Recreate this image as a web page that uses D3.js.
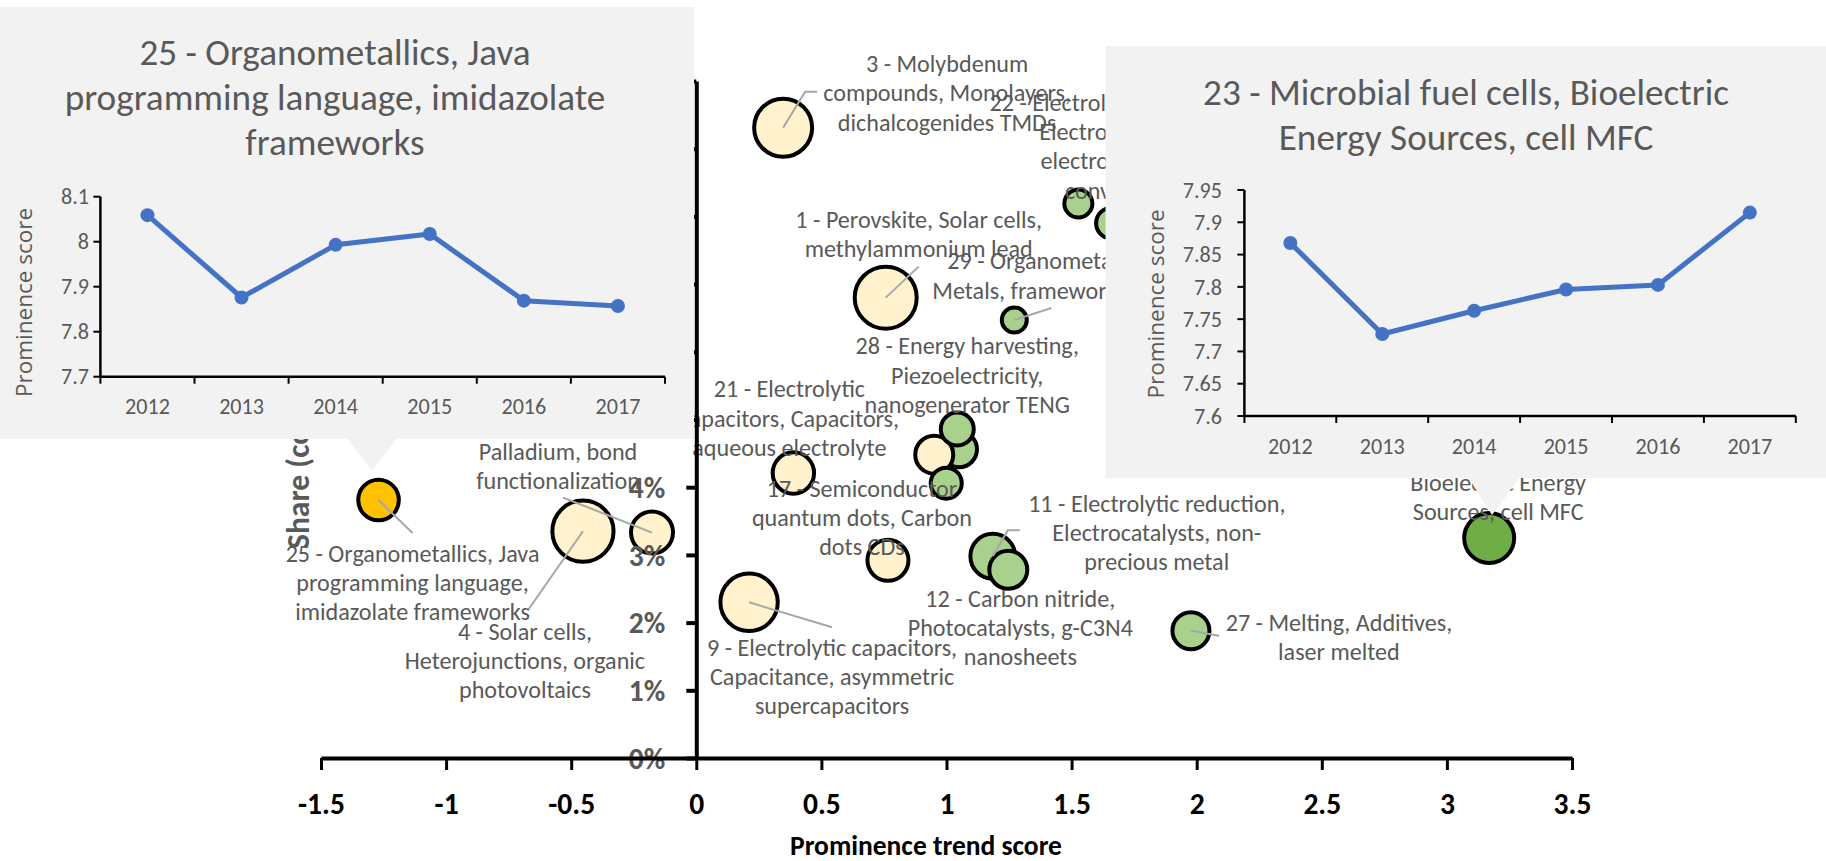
<!DOCTYPE html>
<html>
<head>
<meta charset="utf-8">
<script src="https://cdn.jsdelivr.net/npm/d3@7"></script>
<style>
  html, body { margin: 0; padding: 0; background: #fff; }
  svg { display: block; }
</style>
</head>
<body>
<svg id="chart" width="1826" height="861"></svg>
<script>
// ---------- Topic bubbles: prominence trend score (x), share (y), bubble size ----------
const topicIds   = [3, 1, 4, 24, 25, 9, 21, 17, 14, 19, 28, 26, 11, 12, 27, 29, 30, 22, 23];
const trendScore = [0.347, 0.757, -0.453, -0.177, -1.27, 0.211, 0.388, 0.766, 1.05, 0.951, 1.043, 0.999, 1.185, 1.247, 1.977, 1.271, 1.527, 1.66, 3.169];
const shareValue = [0.0931, 0.0680, 0.0335, 0.0333, 0.0381, 0.0230, 0.0421, 0.0292, 0.0456, 0.0448, 0.0486, 0.0406, 0.0298, 0.0278, 0.0188, 0.0647, 0.0819, 0.0790, 0.0325];
const bubbleSize = [1750, 2000, 1949, 918, 858, 1714, 892, 875, 674, 751, 567, 500, 1044, 751, 712, 325, 408, 500, 1301];
const trendGroup = ["declining", "declining", "declining", "declining", "selectedDeclining", "declining", "declining", "declining",
                    "rising", "declining", "rising", "rising", "rising", "rising", "rising", "rising", "rising", "rising", "selectedRising"];
const topicLabels = [
  ["3 - Molybdenum", "compounds, Monolayers,", "dichalcogenides TMDs"],
  ["1 - Perovskite, Solar cells,", "methylammonium lead"],
  ["4 - Solar cells,", "Heterojunctions, organic", "photovoltaics"],
  ["Palladium, bond", "functionalization"],
  ["25 - Organometallics, Java", "programming language,", "imidazolate frameworks"],
  ["9 - Electrolytic capacitors,", "Capacitance, asymmetric", "supercapacitors"],
  ["21 - Electrolytic", "capacitors, Capacitors,", "aqueous electrolyte"],
  ["17 - Semiconductor", "quantum dots, Carbon", "dots CDs"],
  null,
  null,
  ["28 - Energy harvesting,", "Piezoelectricity,", "nanogenerator TENG"],
  null,
  ["11 - Electrolytic reduction,", "Electrocatalysts, non-", "precious metal"],
  ["12 - Carbon nitride,", "Photocatalysts, g-C3N4", "nanosheets"],
  ["27 - Melting, Additives,", "laser melted"],
  ["29 - Organometallic Frameworks,", "Metals, frameworks MOFs"],
  null,
  ["22 - Electrolytic reduction,", "Electrocatalysts,", "electrochemical", "conversion"],
  ["23 - Microbial fuel cells,", "Bioelectric Energy", "Sources, cell MFC"]
];

// ---------- Axis ticks ----------
const trendTicks = [-1.5, -1, -0.5, 0, 0.5, 1, 1.5, 2, 2.5, 3, 3.5];
const shareTicks = [0, 0.01, 0.02, 0.03, 0.04, 0.05, 0.06, 0.07, 0.08, 0.09, 0.10];

// ---------- Yearly prominence of the two highlighted topics ----------
const years = ["2012", "2013", "2014", "2015", "2016", "2017"];
const topic25Prominence = [8.059, 7.876, 7.993, 8.017, 7.869, 7.857];
const topic23Prominence = [7.868, 7.727, 7.763, 7.796, 7.803, 7.915];
const topic25Ticks = [7.7, 7.8, 7.9, 8.0, 8.1];
const topic23Ticks = [7.6, 7.65, 7.7, 7.75, 7.8, 7.85, 7.9, 7.95];
const topic25Title = ["25 - Organometallics, Java", "programming language, imidazolate", "frameworks"];
const topic23Title = ["23 - Microbial fuel cells, Bioelectric", "Energy Sources, cell MFC"];

// ---------- Presentation ----------
const groupFill = {
  declining: "#FFF2CC",
  rising: "#A9D18E",
  selectedDeclining: "#FFC000",
  selectedRising: "#70AD47"
};
// data-label placement relative to the bubble centre (px), with optional leader-line bends
const labelLayout = {
  3:  { dx: 164, dy: -64, leader: [[22, -36], [34, -36]] },
  1:  { dx: 33, dy: -78, leader: [[33, -31]] },
  4:  { dx: -58, dy: 100, leader: [[-55, 79]] },
  24: { dx: -94, dy: -81, leader: [[-89, -35]] },
  25: { dx: 34, dy: 53, leader: [[34, 33]] },
  9:  { dx: 83, dy: 45, leader: [[83, 25]] },
  21: { dx: -4, dy: -84 },
  17: { dx: -26, dy: -72 },
  28: { dx: 10, dy: -83 },
  11: { dx: 164, dy: -53, leader: [[15, -26], [27, -26]] },
  12: { dx: 12, dy: 28.5 },
  27: { dx: 148, dy: -8, leader: [[28, 5]] },
  29: { dx: -67, dy: -59, anchor: "start", lineDx: [0, -15], leader: [[37, -12]] },
  22: { dx: 6.5, dy: -121 },
  23: { dx: 9, dy: -85 }
};
const LINE_STEP = 29.3;

const svg = d3.select("#chart");
svg.append("rect").attr("width", 1826).attr("height", 861).attr("fill", "#ffffff");

const FONT = "Carlito, Lato, 'Open Sans', sans-serif";
const AXIS_TITLE_FONT = "'Open Sans', 'Noto Sans', sans-serif";

function measure(text, family, weight, size) {
  const t = svg.append("text")
    .attr("font-family", family).attr("font-weight", weight).attr("font-size", size)
    .text(text);
  const w = t.node().getComputedTextLength();
  t.remove();
  return w;
}
// size factors so that text runs keep Calibri-like widths
const regK = 1058 / measure("25 - Organometallics, Java", FONT, 400, 100);
const boldK = (272 / 27) * 100 / measure("Prominence trend score", FONT, 700, 100);

// ---------- Scales ----------
const x = d3.scaleLinear().domain([-1.5, 3.5]).range([321, 1572]);
const y = d3.scaleLinear().domain([0, 0.10]).range([758, 81]);
const r = d3.scaleSqrt().domain([0, 2000]).range([0, 31]);

const topics = topicIds.map((id, i) => ({
  id,
  trend: trendScore[i],
  share: shareValue[i],
  size: bubbleSize[i],
  group: trendGroup[i],
  lines: topicLabels[i],
  layout: labelLayout[id]
}));

// ---------- Bubbles ----------
const bubbles = svg.append("g");
bubbles.selectAll("circle")
  .data(topics)
  .join("circle")
  .attr("cx", d => x(d.trend))
  .attr("cy", d => y(d.share))
  .attr("r", d => r(d.size))
  .attr("fill", d => groupFill[d.group])
  .attr("stroke", "#000")
  .attr("stroke-width", 4);

// ---------- Leader lines ----------
const labelled = topics.filter(d => d.lines && d.layout);
svg.append("g").selectAll("path")
  .data(labelled.filter(d => d.layout.leader))
  .join("path")
  .attr("d", d => {
    const cx = x(d.trend), cy = y(d.share);
    const pts = [[cx, cy]].concat(d.layout.leader.map(p => [cx + p[0], cy + p[1]]));
    return d3.line()(pts);
  })
  .attr("fill", "none")
  .attr("stroke", "#A6A6A6")
  .attr("stroke-width", 2);

// ---------- Data labels ----------
const labelG = svg.append("g")
  .attr("font-family", FONT)
  .attr("font-size", 24 * regK)
  .attr("fill", "#595959");
labelled.forEach(d => {
  const cx = x(d.trend) + d.layout.dx;
  const cy = y(d.share) + d.layout.dy;
  const t = labelG.append("text").attr("text-anchor", d.layout.anchor || "middle");
  d.lines.forEach((line, k) => {
    t.append("tspan")
      .attr("x", cx + (d.layout.lineDx ? d.layout.lineDx[k] : 0))
      .attr("y", cy + k * LINE_STEP)
      .attr("dy", "0.35em")
      .text(line);
  });
});

// ---------- Axes ----------
const yAxis = d3.axisLeft(y).tickValues(shareTicks).tickFormat(d3.format(".0%")).tickSize(10).tickSizeOuter(0);
const gy = svg.append("g").attr("transform", `translate(${x(0)},0)`).call(yAxis);
gy.select(".domain").attr("stroke", "#000").attr("stroke-width", 4);
gy.selectAll(".tick line").attr("stroke", "#000").attr("stroke-width", 4);
gy.selectAll(".tick text")
  .attr("x", -31).attr("dy", "0.35em")
  .attr("font-family", FONT).attr("font-weight", 700)
  .attr("font-size", 29 * boldK).attr("fill", "#595959");

const xAxis = d3.axisBottom(x).tickValues(trendTicks).tickFormat(d => String(d)).tickSize(12).tickSizeOuter(0);
const gx = svg.append("g").attr("transform", `translate(0,${y(0)})`).call(xAxis);
gx.select(".domain").attr("stroke", "#000").attr("stroke-width", 4);
gx.selectAll(".tick line").attr("stroke", "#000").attr("stroke-width", 3);
gx.selectAll(".tick text")
  .attr("y", 45.5).attr("dy", "0.35em")
  .attr("font-family", FONT).attr("font-weight", 700)
  .attr("font-size", 29 * boldK).attr("fill", "#000");

svg.append("text")
  .attr("x", 926).attr("y", 845).attr("dy", "0.35em")
  .attr("text-anchor", "middle")
  .attr("font-family", FONT).attr("font-weight", 700)
  .attr("font-size", 27 * boldK).attr("fill", "#000")
  .text("Prominence trend score");

svg.append("text")
  .attr("transform", "translate(298,549) rotate(-90)")
  .attr("dy", "0.35em")
  .attr("text-anchor", "start")
  .attr("font-family", FONT).attr("font-weight", 700)
  .attr("font-size", 31 * boldK).attr("fill", "#595959")
  .text("Share (corpus)");

// ---------- Callout line charts ----------
function drawInset(cfg) {
  const g = svg.append("g");
  g.append("rect")
    .attr("x", cfg.box[0]).attr("y", cfg.box[1])
    .attr("width", cfg.box[2]).attr("height", cfg.box[3])
    .attr("fill", "#F2F2F2");
  g.append("polygon")
    .attr("points", cfg.pointer.map(p => p.join(",")).join(" "))
    .attr("fill", "#F2F2F2");

  g.append("text")
    .attr("text-anchor", "middle")
    .attr("font-family", FONT).attr("font-size", 37 * regK).attr("fill", "#595959")
    .selectAll("tspan").data(cfg.title).join("tspan")
    .attr("x", cfg.titleX)
    .attr("y", (d, i) => cfg.titleY + i * 45)
    .attr("dy", "0.35em")
    .text(d => d);

  const xb = d3.scaleBand().domain(years).range(cfg.xRange);
  const yl = d3.scaleLinear().domain(cfg.yDomain).range(cfg.yRange);
  const x0 = cfg.xRange[0], x1 = cfg.xRange[1], yb = cfg.yRange[0], yt = cfg.yRange[1];

  // axis lines and tick marks
  const edges = years.map(d => xb(d)).concat([x1]);
  g.append("g").selectAll("line").data(edges).join("line")
    .attr("x1", d => d).attr("x2", d => d).attr("y1", yb).attr("y2", yb + 7)
    .attr("stroke", "#000").attr("stroke-width", 2);
  g.append("g").selectAll("line").data(cfg.ticks).join("line")
    .attr("x1", x0 - 7).attr("x2", x0).attr("y1", d => yl(d)).attr("y2", d => yl(d))
    .attr("stroke", "#000").attr("stroke-width", 2);
  g.append("line").attr("x1", x0).attr("x2", x1).attr("y1", yb).attr("y2", yb)
    .attr("stroke", "#000").attr("stroke-width", 2.5);
  g.append("line").attr("x1", x0).attr("x2", x0).attr("y1", yb).attr("y2", yt)
    .attr("stroke", "#000").attr("stroke-width", 2.5);

  g.append("g").selectAll("text").data(cfg.ticks).join("text")
    .attr("x", cfg.tickLabelX).attr("y", d => yl(d)).attr("dy", "0.35em")
    .attr("text-anchor", "end")
    .attr("font-family", FONT).attr("font-size", 22 * regK).attr("fill", "#595959")
    .text(d => String(+d.toFixed(2)));
  g.append("g").selectAll("text").data(years).join("text")
    .attr("x", d => xb(d) + xb.bandwidth() / 2).attr("y", yb + 30).attr("dy", "0.35em")
    .attr("text-anchor", "middle")
    .attr("font-family", FONT).attr("font-size", 22 * regK).attr("fill", "#595959")
    .text(d => d);
  g.append("text")
    .attr("transform", `translate(${cfg.yTitle[0]},${cfg.yTitle[1]}) rotate(-90)`)
    .attr("dy", "0.35em").attr("text-anchor", "middle")
    .attr("font-family", AXIS_TITLE_FONT).attr("font-size", 22.5).attr("fill", "#595959")
    .text("Prominence score");

  const pts = years.map((yr, i) => [xb(yr) + xb.bandwidth() / 2, yl(cfg.values[i])]);
  g.append("path")
    .attr("d", d3.line()(pts))
    .attr("fill", "none").attr("stroke", "#4472C4").attr("stroke-width", 5)
    .attr("stroke-linejoin", "round").attr("stroke-linecap", "round");
  g.append("g").selectAll("circle").data(pts).join("circle")
    .attr("cx", d => d[0]).attr("cy", d => d[1]).attr("r", 7)
    .attr("fill", "#4472C4");
}

drawInset({
  box: [0, 7, 694, 432],
  pointer: [[347, 438], [397, 438], [372, 471]],
  title: topic25Title, titleX: 335, titleY: 51.7,
  xRange: [100.4, 665], yRange: [376.7, 196.7], yDomain: [7.7, 8.1],
  ticks: topic25Ticks, tickLabelX: 89,
  yTitle: [24.5, 302.5],
  values: topic25Prominence
});

drawInset({
  box: [1105.5, 46, 720.5, 432],
  pointer: [[1468, 477], [1520, 477], [1492, 515]],
  title: topic23Title, titleX: 1466, titleY: 91.7,
  xRange: [1244.4, 1795.8], yRange: [416, 190], yDomain: [7.6, 7.95],
  ticks: topic23Ticks, tickLabelX: 1222,
  yTitle: [1156.5, 304],
  values: topic23Prominence
});
</script>
</body>
</html>
